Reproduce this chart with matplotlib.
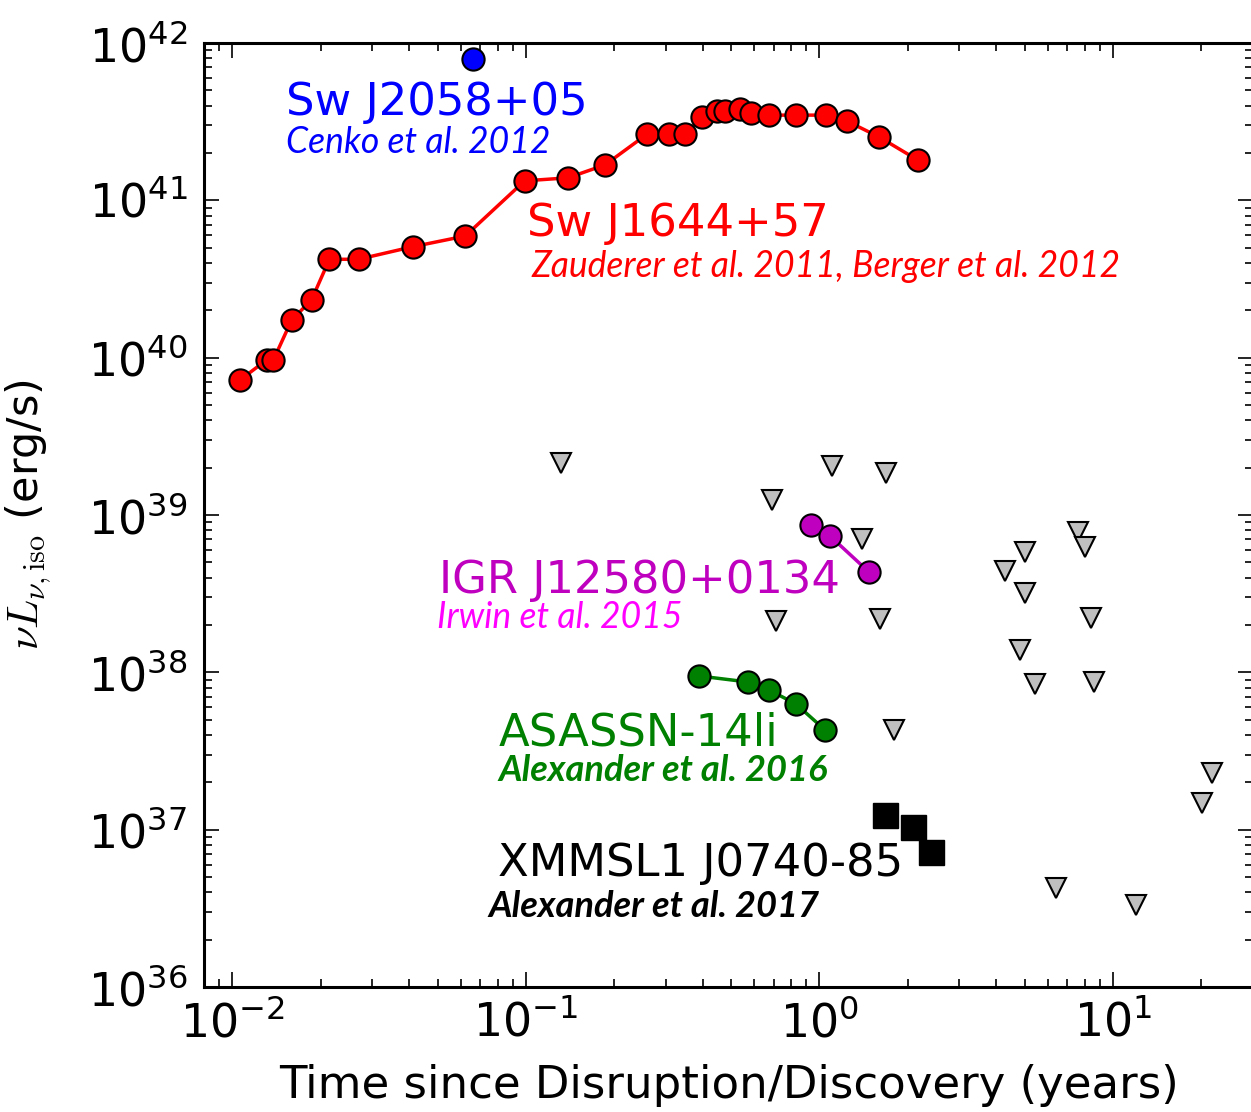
import matplotlib
matplotlib.use('Agg')
import matplotlib.pyplot as plt
from matplotlib.ticker import NullFormatter

plt.rcParams['mathtext.fontset'] = 'cm'
plt.rcParams['axes.unicode_minus'] = False
plt.rcParams['font.family'] = 'DejaVu Sans'

# Sw J1644+57 (Zauderer et al. 2011, Berger et al. 2012)
t_j1644 = [0.0106, 0.0131, 0.0138, 0.0159, 0.0186, 0.0214, 0.0269, 0.0411, 0.0621,
           0.099, 0.139, 0.186, 0.259, 0.308, 0.349, 0.398, 0.448, 0.477, 0.537,
           0.585, 0.673, 0.832, 1.052, 1.241, 1.595, 2.166]
l_j1644 = [7.2e39, 9.7e39, 9.7e39, 1.73e40, 2.33e40, 4.22e40, 4.22e40, 5.07e40, 5.93e40,
           1.33e41, 1.39e41, 1.68e41, 2.64e41, 2.64e41, 2.64e41, 3.39e41, 3.70e41, 3.70e41, 3.81e41,
           3.59e41, 3.48e41, 3.48e41, 3.48e41, 3.19e41, 2.53e41, 1.80e41]

# Sw J2058+05 (Cenko et al. 2012)
t_j2058 = [0.0661]
l_j2058 = [7.9e41]

# IGR J12580+0134 (Irwin et al. 2015)
t_igr = [0.938, 1.086, 1.475]
l_igr = [8.64e38, 7.36e38, 4.34e38]

# ASASSN-14li (Alexander et al. 2016)
t_asassn = [0.389, 0.571, 0.673, 0.832, 1.045]
l_asassn = [9.48e37, 8.68e37, 7.73e37, 6.29e37, 4.30e37]

# XMMSL1 J0740-85 (Alexander et al. 2017)
t_xmm = [1.674, 2.085, 2.40]
l_xmm = [1.24e37, 1.04e37, 7.21e36]

# radio upper limits
t_lim = [0.1318, 0.689, 1.10, 1.686, 1.40, 0.712, 1.602, 1.80, 4.30, 5.00, 5.01,
         7.61, 8.01, 8.43, 4.81, 5.41, 8.61, 6.40, 12.0, 20.1, 21.8]
l_lim = [2.14e39, 1.24e39, 2.06e39, 1.86e39, 7.04e38, 2.12e38, 2.19e38, 4.30e37, 4.41e38,
         5.82e38, 3.21e38, 7.83e38, 6.29e38, 2.20e38, 1.39e38, 8.39e37, 8.71e37, 4.26e36,
         3.32e36, 1.48e37, 2.29e37]

fig = plt.figure(figsize=(12.51, 11.12), dpi=100)
ax = fig.add_axes([204 / 1251, 1 - 987 / 1112, 1049 / 1251, 944 / 1112])

ax.plot(t_lim, l_lim, 'v', color='0.75', mec='k', mew=1.5, ms=15, ls='')
ax.plot(t_j1644, l_j1644, 'o-', color='r', mec='k', mew=1.5, ms=16, lw=2.5)
ax.plot(t_j2058, l_j2058, 'o', color='b', mec='k', mew=1.5, ms=16)
ax.plot(t_igr, l_igr, 'o-', color='m', mec='k', mew=1.5, ms=16, lw=2.5)
ax.plot(t_asassn, l_asassn, 'o-', color='g', mec='k', mew=1.5, ms=16, lw=2.5)
ax.plot(t_xmm, l_xmm, 's', color='k', mec='k', ms=18)

ax.set_xscale('log')
ax.set_yscale('log')
ax.set_xlim(0.008, 30)
ax.set_ylim(1e36, 1e42)
ax.xaxis.set_minor_formatter(NullFormatter())
ax.yaxis.set_minor_formatter(NullFormatter())

name_kw = dict(fontsize=32.3, ha='left', va='baseline')
ref_kw = dict(fontsize=25.6, ha='left', va='baseline', style='italic', family='Lato')
refb_kw = dict(fontsize=26.1, ha='left', va='baseline', style='italic', weight='bold', family='Lato')

ax.text(0.0152, 3.49e41, 'Sw J2058+05', color='b', **name_kw)
ax.text(0.0152, 2.0e41, 'Cenko et al. 2012', color='b', **ref_kw)
ax.text(0.101, 5.93e40, 'Sw J1644+57', color='r', **name_kw)
ax.text(0.1042, 3.26e40, 'Zauderer et al. 2011, Berger et al. 2012', color='r', **ref_kw)
ax.text(0.0506, 3.19e38, 'IGR J12580+0134', color='m', **name_kw)
ax.text(0.0498, 1.91e38, 'Irwin et al. 2015', color='#ff00ff', **ref_kw)
ax.text(0.0804, 3.45e37, 'ASASSN-14li', color='g', **name_kw)
ax.text(0.0804, 2.04e37, 'Alexander et al. 2016', color='g', **refb_kw)
ax.text(0.0804, 5.07e36, 'XMMSL1 J0740-85', color='k', **name_kw)
ax.text(0.0743, 2.79e36, 'Alexander et al. 2017', color='k', **refb_kw)

ax.set_xlabel('Time since Disruption/Discovery (years)', fontsize=32.4, labelpad=12)
ax.set_ylabel(r'$\nu L_{\nu,\rm iso}$ (erg/s)', fontsize=31)
ax.yaxis.set_label_coords(-0.144, 0.5)

for s in ax.spines.values():
    s.set_linewidth(2.2)
ax.tick_params(which='both', direction='in', top=True, right=True, labelsize=33)
ax.tick_params(which='major', length=11, width=1.2)
ax.tick_params(axis='x', which='major', pad=10)
ax.tick_params(axis='y', which='major', pad=12)
ax.tick_params(which='minor', length=6, width=1.2)

fig.savefig('out.png', dpi=100)
